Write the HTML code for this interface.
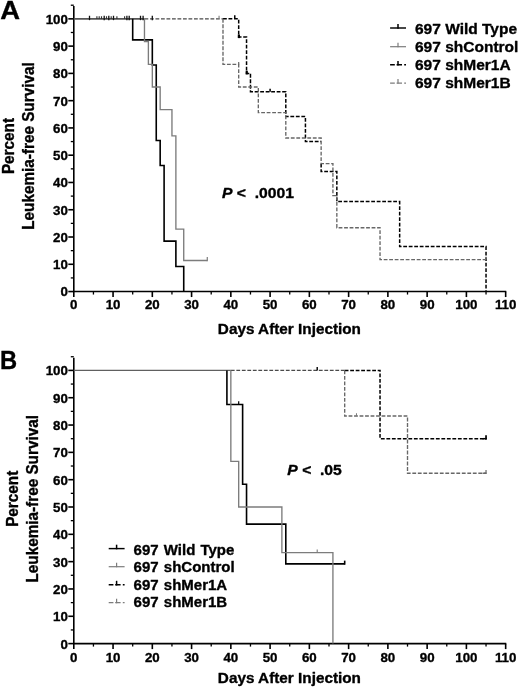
<!DOCTYPE html>
<html><head><meta charset="utf-8"><title>Figure</title>
<style>
html,body{margin:0;padding:0;background:#fff;}
body{width:520px;height:688px;overflow:hidden;}
svg{display:block;will-change:transform;}
text{font-family:"Liberation Sans",sans-serif;font-weight:bold;fill:#000;stroke:#000;stroke-width:0.35px;stroke-linejoin:round;}
.tk{font-size:13.3px;}
.ax{font-size:15.3px;}
.lg{font-size:15.6px;}
.pv{font-size:14.4px;}
.pl{font-size:26px;}
</style></head>
<body>
<svg width="520" height="688" viewBox="0 0 520 688">
<rect x="0" y="0" width="520" height="688" fill="#fff"/>
<path d="M73.80 6.12 L73.80 291.55 L506.26 291.55" fill="none" stroke="#000" stroke-width="1.6" stroke-linecap="butt" stroke-linejoin="miter"/>
<line x1="68.30" y1="291.55" x2="73.80" y2="291.55" stroke="#000" stroke-width="1.6"/>
<text x="67.90" y="296.45" text-anchor="end" class="tk">0</text>
<line x1="70.80" y1="277.92" x2="73.80" y2="277.92" stroke="#000" stroke-width="1.3"/>
<line x1="68.30" y1="264.28" x2="73.80" y2="264.28" stroke="#000" stroke-width="1.6"/>
<text x="67.90" y="269.18" text-anchor="end" class="tk">10</text>
<line x1="70.80" y1="250.65" x2="73.80" y2="250.65" stroke="#000" stroke-width="1.3"/>
<line x1="68.30" y1="237.01" x2="73.80" y2="237.01" stroke="#000" stroke-width="1.6"/>
<text x="67.90" y="241.91" text-anchor="end" class="tk">20</text>
<line x1="70.80" y1="223.38" x2="73.80" y2="223.38" stroke="#000" stroke-width="1.3"/>
<line x1="68.30" y1="209.74" x2="73.80" y2="209.74" stroke="#000" stroke-width="1.6"/>
<text x="67.90" y="214.64" text-anchor="end" class="tk">30</text>
<line x1="70.80" y1="196.11" x2="73.80" y2="196.11" stroke="#000" stroke-width="1.3"/>
<line x1="68.30" y1="182.47" x2="73.80" y2="182.47" stroke="#000" stroke-width="1.6"/>
<text x="67.90" y="187.37" text-anchor="end" class="tk">40</text>
<line x1="70.80" y1="168.84" x2="73.80" y2="168.84" stroke="#000" stroke-width="1.3"/>
<line x1="68.30" y1="155.20" x2="73.80" y2="155.20" stroke="#000" stroke-width="1.6"/>
<text x="67.90" y="160.10" text-anchor="end" class="tk">50</text>
<line x1="70.80" y1="141.57" x2="73.80" y2="141.57" stroke="#000" stroke-width="1.3"/>
<line x1="68.30" y1="127.93" x2="73.80" y2="127.93" stroke="#000" stroke-width="1.6"/>
<text x="67.90" y="132.83" text-anchor="end" class="tk">60</text>
<line x1="70.80" y1="114.30" x2="73.80" y2="114.30" stroke="#000" stroke-width="1.3"/>
<line x1="68.30" y1="100.66" x2="73.80" y2="100.66" stroke="#000" stroke-width="1.6"/>
<text x="67.90" y="105.56" text-anchor="end" class="tk">70</text>
<line x1="70.80" y1="87.03" x2="73.80" y2="87.03" stroke="#000" stroke-width="1.3"/>
<line x1="68.30" y1="73.39" x2="73.80" y2="73.39" stroke="#000" stroke-width="1.6"/>
<text x="67.90" y="78.29" text-anchor="end" class="tk">80</text>
<line x1="70.80" y1="59.76" x2="73.80" y2="59.76" stroke="#000" stroke-width="1.3"/>
<line x1="68.30" y1="46.12" x2="73.80" y2="46.12" stroke="#000" stroke-width="1.6"/>
<text x="67.90" y="51.02" text-anchor="end" class="tk">90</text>
<line x1="70.80" y1="32.49" x2="73.80" y2="32.49" stroke="#000" stroke-width="1.3"/>
<line x1="68.30" y1="18.85" x2="73.80" y2="18.85" stroke="#000" stroke-width="1.6"/>
<text x="67.90" y="23.75" text-anchor="end" class="tk">100</text>
<line x1="70.80" y1="5.22" x2="73.80" y2="5.22" stroke="#000" stroke-width="1.3"/>
<line x1="73.80" y1="291.55" x2="73.80" y2="297.05" stroke="#000" stroke-width="1.6"/>
<text x="73.80" y="309.45" text-anchor="middle" class="tk">0</text>
<line x1="93.43" y1="291.55" x2="93.43" y2="294.55" stroke="#000" stroke-width="1.3"/>
<line x1="113.06" y1="291.55" x2="113.06" y2="297.05" stroke="#000" stroke-width="1.6"/>
<text x="113.06" y="309.45" text-anchor="middle" class="tk">10</text>
<line x1="132.69" y1="291.55" x2="132.69" y2="294.55" stroke="#000" stroke-width="1.3"/>
<line x1="152.32" y1="291.55" x2="152.32" y2="297.05" stroke="#000" stroke-width="1.6"/>
<text x="152.32" y="309.45" text-anchor="middle" class="tk">20</text>
<line x1="171.95" y1="291.55" x2="171.95" y2="294.55" stroke="#000" stroke-width="1.3"/>
<line x1="191.58" y1="291.55" x2="191.58" y2="297.05" stroke="#000" stroke-width="1.6"/>
<text x="191.58" y="309.45" text-anchor="middle" class="tk">30</text>
<line x1="211.21" y1="291.55" x2="211.21" y2="294.55" stroke="#000" stroke-width="1.3"/>
<line x1="230.84" y1="291.55" x2="230.84" y2="297.05" stroke="#000" stroke-width="1.6"/>
<text x="230.84" y="309.45" text-anchor="middle" class="tk">40</text>
<line x1="250.47" y1="291.55" x2="250.47" y2="294.55" stroke="#000" stroke-width="1.3"/>
<line x1="270.10" y1="291.55" x2="270.10" y2="297.05" stroke="#000" stroke-width="1.6"/>
<text x="270.10" y="309.45" text-anchor="middle" class="tk">50</text>
<line x1="289.73" y1="291.55" x2="289.73" y2="294.55" stroke="#000" stroke-width="1.3"/>
<line x1="309.36" y1="291.55" x2="309.36" y2="297.05" stroke="#000" stroke-width="1.6"/>
<text x="309.36" y="309.45" text-anchor="middle" class="tk">60</text>
<line x1="328.99" y1="291.55" x2="328.99" y2="294.55" stroke="#000" stroke-width="1.3"/>
<line x1="348.62" y1="291.55" x2="348.62" y2="297.05" stroke="#000" stroke-width="1.6"/>
<text x="348.62" y="309.45" text-anchor="middle" class="tk">70</text>
<line x1="368.25" y1="291.55" x2="368.25" y2="294.55" stroke="#000" stroke-width="1.3"/>
<line x1="387.88" y1="291.55" x2="387.88" y2="297.05" stroke="#000" stroke-width="1.6"/>
<text x="387.88" y="309.45" text-anchor="middle" class="tk">80</text>
<line x1="407.51" y1="291.55" x2="407.51" y2="294.55" stroke="#000" stroke-width="1.3"/>
<line x1="427.14" y1="291.55" x2="427.14" y2="297.05" stroke="#000" stroke-width="1.6"/>
<text x="427.14" y="309.45" text-anchor="middle" class="tk">90</text>
<line x1="446.77" y1="291.55" x2="446.77" y2="294.55" stroke="#000" stroke-width="1.3"/>
<line x1="466.40" y1="291.55" x2="466.40" y2="297.05" stroke="#000" stroke-width="1.6"/>
<text x="466.40" y="309.45" text-anchor="middle" class="tk">100</text>
<line x1="486.03" y1="291.55" x2="486.03" y2="294.55" stroke="#000" stroke-width="1.3"/>
<line x1="505.66" y1="291.55" x2="505.66" y2="297.05" stroke="#000" stroke-width="1.6"/>
<text x="505.66" y="309.45" text-anchor="middle" class="tk">110</text>
<text x="289.40" y="334.45" text-anchor="middle" class="ax">Days After Injection</text>
<text transform="translate(14.40 146.05) rotate(-90) scale(1 1.07)" text-anchor="middle" class="ax">Percent</text>
<text transform="translate(34.20 146.05) rotate(-90) scale(1 1.07)" text-anchor="middle" class="ax">Leukemia-free Survival</text>
<path d="M73.80 18.85 L144.47 18.85" fill="none" stroke="#555" stroke-width="1.6" stroke-linejoin="miter" stroke-linecap="butt"/>
<path d="M144.47 18.85 L222.99 18.85" fill="none" stroke="#4a4a4a" stroke-width="1.45" stroke-linejoin="miter" stroke-linecap="butt" stroke-dasharray="3.8 1.7"/>
<path d="M132.69 18.85 L132.69 39.85 L152.32 39.85 L152.32 64.94 L156.25 64.94 L156.25 140.47 L160.17 140.47 L160.17 165.56 L164.10 165.56 L164.10 241.10 L175.88 241.10 L175.88 266.46 L183.73 266.46 L183.73 291.55" fill="none" stroke="#000" stroke-width="1.6" stroke-linejoin="miter" stroke-linecap="butt"/>
<path d="M144.47 18.85 L144.47 41.48 L148.39 41.48 L148.39 64.39 L152.32 64.39 L152.32 87.03 L160.17 87.03 L160.17 109.66 L171.95 109.66 L171.95 135.84 L175.88 135.84 L175.88 229.10 L183.73 229.10 L183.73 260.46 L207.28 260.46" fill="none" stroke="#7c7c7c" stroke-width="1.35" stroke-linejoin="miter" stroke-linecap="butt"/>
<line x1="207.28" y1="256.96" x2="207.28" y2="261.16" stroke="#7c7c7c" stroke-width="1.2"/>
<path d="M222.99 18.85 L238.69 18.85 L238.69 37.12 L246.54 37.12 L246.54 73.39 L250.47 73.39 L250.47 91.66 L285.80 91.66 L285.80 116.48 L305.43 116.48 L305.43 141.57 L321.14 141.57" fill="none" stroke="#000" stroke-width="1.5" stroke-linejoin="miter" stroke-linecap="butt" stroke-dasharray="3.8 1.7"/>
<path d="M321.14 163.65 L321.14 171.56 L336.84 171.56 L336.84 201.56 L399.66 201.56 L399.66 246.55 L486.03 246.55 L486.03 291.55" fill="none" stroke="#000" stroke-width="1.5" stroke-linejoin="miter" stroke-linecap="butt" stroke-dasharray="3.8 1.7"/>
<path d="M222.99 18.85 L222.99 64.39 L238.69 64.39 L238.69 87.03 L258.32 87.03 L258.32 112.66 L285.80 112.66 L285.80 138.02 L321.14 138.02 L321.14 163.65 L332.92 163.65 L332.92 195.56 L336.84 195.56 L336.84 227.74 L380.03 227.74 L380.03 259.64 L486.03 259.64" fill="none" stroke="#676767" stroke-width="1.35" stroke-linejoin="miter" stroke-linecap="butt" stroke-dasharray="3.8 1.7"/>
<line x1="486.03" y1="256.64" x2="486.03" y2="259.64" stroke="#7c7c7c" stroke-width="1.0"/>
<line x1="89.50" y1="15.75" x2="89.50" y2="20.15" stroke="#111" stroke-width="1.3"/>
<line x1="104.20" y1="15.75" x2="104.20" y2="20.15" stroke="#111" stroke-width="1.3"/>
<line x1="108.80" y1="15.75" x2="108.80" y2="20.15" stroke="#111" stroke-width="1.3"/>
<line x1="113.50" y1="15.75" x2="113.50" y2="20.15" stroke="#111" stroke-width="1.3"/>
<line x1="126.90" y1="15.75" x2="126.90" y2="20.15" stroke="#111" stroke-width="1.3"/>
<line x1="129.20" y1="15.75" x2="129.20" y2="20.15" stroke="#111" stroke-width="1.3"/>
<line x1="140.50" y1="15.75" x2="140.50" y2="20.15" stroke="#111" stroke-width="1.3"/>
<line x1="143.10" y1="15.75" x2="143.10" y2="20.15" stroke="#111" stroke-width="1.3"/>
<line x1="152.30" y1="15.75" x2="152.30" y2="20.15" stroke="#111" stroke-width="1.3"/>
<line x1="96.90" y1="16.25" x2="96.90" y2="19.05" stroke="#333" stroke-width="1.15"/>
<line x1="99.20" y1="16.25" x2="99.20" y2="19.05" stroke="#333" stroke-width="1.15"/>
<line x1="101.50" y1="16.25" x2="101.50" y2="19.05" stroke="#333" stroke-width="1.15"/>
<line x1="106.50" y1="16.25" x2="106.50" y2="19.05" stroke="#333" stroke-width="1.15"/>
<line x1="111.20" y1="16.25" x2="111.20" y2="19.05" stroke="#333" stroke-width="1.15"/>
<line x1="116.90" y1="16.25" x2="116.90" y2="19.05" stroke="#333" stroke-width="1.15"/>
<line x1="124.60" y1="16.25" x2="124.60" y2="19.05" stroke="#333" stroke-width="1.15"/>
<line x1="234.77" y1="15.25" x2="234.77" y2="18.85" stroke="#000" stroke-width="1.5"/>
<line x1="219.06" y1="15.65" x2="219.06" y2="18.85" stroke="#7c7c7c" stroke-width="1.1"/>
<line x1="238.89" y1="34.52" x2="238.89" y2="38.12" stroke="#000" stroke-width="2.2"/>
<line x1="246.74" y1="70.79" x2="246.74" y2="74.39" stroke="#000" stroke-width="2.2"/>
<line x1="238.69" y1="61.99" x2="238.69" y2="64.39" stroke="#676767" stroke-width="1.2"/>
<line x1="270.10" y1="88.66" x2="270.10" y2="91.66" stroke="#000" stroke-width="1.5"/>
<text transform="translate(222.0 197.8) scale(1.09 1)" class="pv"><tspan font-style="italic">P</tspan> &lt;&#160; .0001</text>
<text transform="translate(0.2 19.3) scale(1.07 1)" class="pl" style="font-size:25.6px">A</text>
<line x1="390.10" y1="28.00" x2="406.00" y2="28.00" stroke="#000" stroke-width="1.45"/>
<line x1="398.00" y1="24.10" x2="398.00" y2="28.73" stroke="#000" stroke-width="1.5"/>
<text x="415.00" y="33.60" class="lg" style="font-size:15.5px;word-spacing:0.0px">697 Wild Type</text>
<line x1="390.10" y1="46.70" x2="406.00" y2="46.70" stroke="#7c7c7c" stroke-width="1.2"/>
<line x1="398.00" y1="42.80" x2="398.00" y2="47.30" stroke="#7c7c7c" stroke-width="1.2"/>
<text x="415.00" y="51.75" class="lg" style="font-size:15.5px;word-spacing:0.0px">697 shControl</text>
<line x1="390.10" y1="64.80" x2="406.00" y2="64.80" stroke="#000" stroke-width="1.6" stroke-dasharray="4.7 1.8 5.4 2.2 1.8 20"/>
<line x1="398.00" y1="60.90" x2="398.00" y2="65.60" stroke="#000" stroke-width="1.5"/>
<text x="415.00" y="69.90" class="lg" style="font-size:15.5px;word-spacing:0.0px">697 shMer1A</text>
<line x1="390.10" y1="83.00" x2="406.00" y2="83.00" stroke="#7c7c7c" stroke-width="1.25" stroke-dasharray="4.7 1.8 5.4 2.2 1.8 20"/>
<line x1="398.00" y1="79.10" x2="398.00" y2="83.62" stroke="#7c7c7c" stroke-width="1.2"/>
<text x="415.00" y="88.05" class="lg" style="font-size:15.5px;word-spacing:0.0px">697 shMer1B</text>
<path d="M73.80 357.64 L73.80 643.60 L506.26 643.60" fill="none" stroke="#000" stroke-width="1.6" stroke-linecap="butt" stroke-linejoin="miter"/>
<line x1="68.30" y1="643.60" x2="73.80" y2="643.60" stroke="#000" stroke-width="1.6"/>
<text x="67.90" y="648.50" text-anchor="end" class="tk">0</text>
<line x1="70.80" y1="629.94" x2="73.80" y2="629.94" stroke="#000" stroke-width="1.3"/>
<line x1="68.30" y1="616.28" x2="73.80" y2="616.28" stroke="#000" stroke-width="1.6"/>
<text x="67.90" y="621.18" text-anchor="end" class="tk">10</text>
<line x1="70.80" y1="602.62" x2="73.80" y2="602.62" stroke="#000" stroke-width="1.3"/>
<line x1="68.30" y1="588.96" x2="73.80" y2="588.96" stroke="#000" stroke-width="1.6"/>
<text x="67.90" y="593.86" text-anchor="end" class="tk">20</text>
<line x1="70.80" y1="575.30" x2="73.80" y2="575.30" stroke="#000" stroke-width="1.3"/>
<line x1="68.30" y1="561.64" x2="73.80" y2="561.64" stroke="#000" stroke-width="1.6"/>
<text x="67.90" y="566.54" text-anchor="end" class="tk">30</text>
<line x1="70.80" y1="547.98" x2="73.80" y2="547.98" stroke="#000" stroke-width="1.3"/>
<line x1="68.30" y1="534.32" x2="73.80" y2="534.32" stroke="#000" stroke-width="1.6"/>
<text x="67.90" y="539.22" text-anchor="end" class="tk">40</text>
<line x1="70.80" y1="520.66" x2="73.80" y2="520.66" stroke="#000" stroke-width="1.3"/>
<line x1="68.30" y1="507.00" x2="73.80" y2="507.00" stroke="#000" stroke-width="1.6"/>
<text x="67.90" y="511.90" text-anchor="end" class="tk">50</text>
<line x1="70.80" y1="493.34" x2="73.80" y2="493.34" stroke="#000" stroke-width="1.3"/>
<line x1="68.30" y1="479.68" x2="73.80" y2="479.68" stroke="#000" stroke-width="1.6"/>
<text x="67.90" y="484.58" text-anchor="end" class="tk">60</text>
<line x1="70.80" y1="466.02" x2="73.80" y2="466.02" stroke="#000" stroke-width="1.3"/>
<line x1="68.30" y1="452.36" x2="73.80" y2="452.36" stroke="#000" stroke-width="1.6"/>
<text x="67.90" y="457.26" text-anchor="end" class="tk">70</text>
<line x1="70.80" y1="438.70" x2="73.80" y2="438.70" stroke="#000" stroke-width="1.3"/>
<line x1="68.30" y1="425.04" x2="73.80" y2="425.04" stroke="#000" stroke-width="1.6"/>
<text x="67.90" y="429.94" text-anchor="end" class="tk">80</text>
<line x1="70.80" y1="411.38" x2="73.80" y2="411.38" stroke="#000" stroke-width="1.3"/>
<line x1="68.30" y1="397.72" x2="73.80" y2="397.72" stroke="#000" stroke-width="1.6"/>
<text x="67.90" y="402.62" text-anchor="end" class="tk">90</text>
<line x1="70.80" y1="384.06" x2="73.80" y2="384.06" stroke="#000" stroke-width="1.3"/>
<line x1="68.30" y1="370.40" x2="73.80" y2="370.40" stroke="#000" stroke-width="1.6"/>
<text x="67.90" y="375.30" text-anchor="end" class="tk">100</text>
<line x1="70.80" y1="356.74" x2="73.80" y2="356.74" stroke="#000" stroke-width="1.3"/>
<line x1="73.80" y1="643.60" x2="73.80" y2="649.10" stroke="#000" stroke-width="1.6"/>
<text x="73.80" y="662.20" text-anchor="middle" class="tk">0</text>
<line x1="93.43" y1="643.60" x2="93.43" y2="646.60" stroke="#000" stroke-width="1.3"/>
<line x1="113.06" y1="643.60" x2="113.06" y2="649.10" stroke="#000" stroke-width="1.6"/>
<text x="113.06" y="662.20" text-anchor="middle" class="tk">10</text>
<line x1="132.69" y1="643.60" x2="132.69" y2="646.60" stroke="#000" stroke-width="1.3"/>
<line x1="152.32" y1="643.60" x2="152.32" y2="649.10" stroke="#000" stroke-width="1.6"/>
<text x="152.32" y="662.20" text-anchor="middle" class="tk">20</text>
<line x1="171.95" y1="643.60" x2="171.95" y2="646.60" stroke="#000" stroke-width="1.3"/>
<line x1="191.58" y1="643.60" x2="191.58" y2="649.10" stroke="#000" stroke-width="1.6"/>
<text x="191.58" y="662.20" text-anchor="middle" class="tk">30</text>
<line x1="211.21" y1="643.60" x2="211.21" y2="646.60" stroke="#000" stroke-width="1.3"/>
<line x1="230.84" y1="643.60" x2="230.84" y2="649.10" stroke="#000" stroke-width="1.6"/>
<text x="230.84" y="662.20" text-anchor="middle" class="tk">40</text>
<line x1="250.47" y1="643.60" x2="250.47" y2="646.60" stroke="#000" stroke-width="1.3"/>
<line x1="270.10" y1="643.60" x2="270.10" y2="649.10" stroke="#000" stroke-width="1.6"/>
<text x="270.10" y="662.20" text-anchor="middle" class="tk">50</text>
<line x1="289.73" y1="643.60" x2="289.73" y2="646.60" stroke="#000" stroke-width="1.3"/>
<line x1="309.36" y1="643.60" x2="309.36" y2="649.10" stroke="#000" stroke-width="1.6"/>
<text x="309.36" y="662.20" text-anchor="middle" class="tk">60</text>
<line x1="328.99" y1="643.60" x2="328.99" y2="646.60" stroke="#000" stroke-width="1.3"/>
<line x1="348.62" y1="643.60" x2="348.62" y2="649.10" stroke="#000" stroke-width="1.6"/>
<text x="348.62" y="662.20" text-anchor="middle" class="tk">70</text>
<line x1="368.25" y1="643.60" x2="368.25" y2="646.60" stroke="#000" stroke-width="1.3"/>
<line x1="387.88" y1="643.60" x2="387.88" y2="649.10" stroke="#000" stroke-width="1.6"/>
<text x="387.88" y="662.20" text-anchor="middle" class="tk">80</text>
<line x1="407.51" y1="643.60" x2="407.51" y2="646.60" stroke="#000" stroke-width="1.3"/>
<line x1="427.14" y1="643.60" x2="427.14" y2="649.10" stroke="#000" stroke-width="1.6"/>
<text x="427.14" y="662.20" text-anchor="middle" class="tk">90</text>
<line x1="446.77" y1="643.60" x2="446.77" y2="646.60" stroke="#000" stroke-width="1.3"/>
<line x1="466.40" y1="643.60" x2="466.40" y2="649.10" stroke="#000" stroke-width="1.6"/>
<text x="466.40" y="662.20" text-anchor="middle" class="tk">100</text>
<line x1="486.03" y1="643.60" x2="486.03" y2="646.60" stroke="#000" stroke-width="1.3"/>
<line x1="505.66" y1="643.60" x2="505.66" y2="649.10" stroke="#000" stroke-width="1.6"/>
<text x="505.66" y="662.20" text-anchor="middle" class="tk">110</text>
<text x="289.40" y="682.50" text-anchor="middle" class="ax">Days After Injection</text>
<text transform="translate(18.00 498.80) rotate(-90) scale(1 1.07)" text-anchor="middle" class="ax">Percent</text>
<text transform="translate(37.70 498.80) rotate(-90) scale(1 1.07)" text-anchor="middle" class="ax">Leukemia-free Survival</text>
<path d="M73.80 370.40 L230.84 370.40" fill="none" stroke="#606060" stroke-width="1.4" stroke-linejoin="miter" stroke-linecap="butt"/>
<path d="M230.84 370.40 L344.69 370.40" fill="none" stroke="#4a4a4a" stroke-width="1.4" stroke-linejoin="miter" stroke-linecap="butt" stroke-dasharray="3.8 1.7"/>
<path d="M226.91 370.40 L226.91 404.55 L242.62 404.55 L242.62 484.32 L246.54 484.32 L246.54 524.08 L285.80 524.08 L285.80 563.83 L344.69 563.83" fill="none" stroke="#000" stroke-width="1.6" stroke-linejoin="miter" stroke-linecap="butt"/>
<line x1="344.69" y1="560.63" x2="344.69" y2="564.73" stroke="#000" stroke-width="1.6"/>
<line x1="238.69" y1="401.35" x2="238.69" y2="404.55" stroke="#000" stroke-width="1.2"/>
<path d="M230.84 370.40 L230.84 461.38 L238.69 461.38 L238.69 507.00 L281.88 507.00 L281.88 552.62 L332.92 552.62 L332.92 643.60" fill="none" stroke="#7c7c7c" stroke-width="1.35" stroke-linejoin="miter" stroke-linecap="butt"/>
<line x1="317.21" y1="549.42" x2="317.21" y2="552.62" stroke="#7c7c7c" stroke-width="1.1"/>
<path d="M344.69 370.40 L380.03 370.40 L380.03 438.70 L486.03 438.70" fill="none" stroke="#000" stroke-width="1.5" stroke-linejoin="miter" stroke-linecap="butt" stroke-dasharray="3.8 1.7"/>
<line x1="486.03" y1="435.30" x2="486.03" y2="439.50" stroke="#000" stroke-width="1.7"/>
<path d="M482.50 438.70 L486.82 438.70" fill="none" stroke="#000" stroke-width="1.5" stroke-linejoin="miter" stroke-linecap="butt"/>
<line x1="317.21" y1="367.00" x2="317.21" y2="370.40" stroke="#000" stroke-width="1.4"/>
<path d="M344.69 370.40 L344.69 416.02 L407.51 416.02 L407.51 473.26 L486.03 473.26" fill="none" stroke="#676767" stroke-width="1.35" stroke-linejoin="miter" stroke-linecap="butt" stroke-dasharray="3.8 1.7"/>
<line x1="486.03" y1="470.06" x2="486.03" y2="473.86" stroke="#676767" stroke-width="1.2"/>
<path d="M482.50 473.26 L486.62 473.26" fill="none" stroke="#676767" stroke-width="1.35" stroke-linejoin="miter" stroke-linecap="butt"/>
<line x1="356.47" y1="413.22" x2="356.47" y2="416.02" stroke="#7c7c7c" stroke-width="1.0"/>
<text transform="translate(287.3 475.3) scale(1.09 1)" class="pv"><tspan font-style="italic">P</tspan> &lt;&#160; .05</text>
<text transform="translate(-0.1 368.5) scale(0.95 1)" class="pl" style="font-size:25px">B</text>
<line x1="108.70" y1="548.60" x2="124.60" y2="548.60" stroke="#000" stroke-width="1.45"/>
<line x1="116.60" y1="544.70" x2="116.60" y2="549.33" stroke="#000" stroke-width="1.5"/>
<text x="133.60" y="554.50" class="lg" style="font-size:15.0px;word-spacing:1.0px">697 Wild Type</text>
<line x1="108.70" y1="566.70" x2="124.60" y2="566.70" stroke="#7c7c7c" stroke-width="1.2"/>
<line x1="116.60" y1="562.80" x2="116.60" y2="567.30" stroke="#7c7c7c" stroke-width="1.2"/>
<text x="133.60" y="572.10" class="lg" style="font-size:15.0px;word-spacing:1.0px">697 shControl</text>
<line x1="108.70" y1="584.70" x2="124.60" y2="584.70" stroke="#000" stroke-width="1.6" stroke-dasharray="4.7 1.8 5.4 2.2 1.8 20"/>
<line x1="116.60" y1="580.80" x2="116.60" y2="585.50" stroke="#000" stroke-width="1.5"/>
<text x="133.60" y="589.70" class="lg" style="font-size:15.0px;word-spacing:1.0px">697 shMer1A</text>
<line x1="108.70" y1="602.70" x2="124.60" y2="602.70" stroke="#7c7c7c" stroke-width="1.25" stroke-dasharray="4.7 1.8 5.4 2.2 1.8 20"/>
<line x1="116.60" y1="598.80" x2="116.60" y2="603.33" stroke="#7c7c7c" stroke-width="1.2"/>
<text x="133.60" y="607.30" class="lg" style="font-size:15.0px;word-spacing:1.0px">697 shMer1B</text>
</svg>
</body></html>
